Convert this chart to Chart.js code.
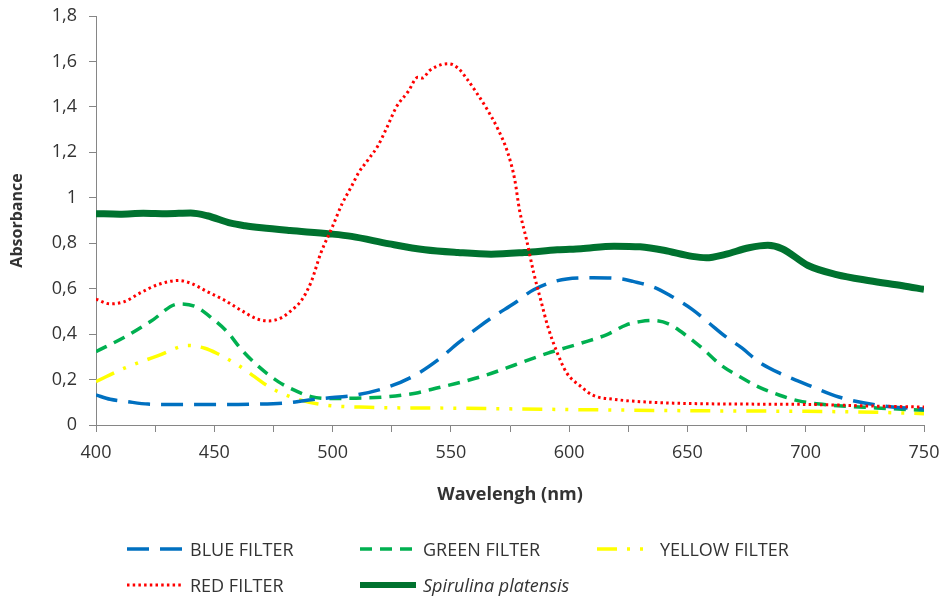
<!DOCTYPE html>
<html>
<head>
<meta charset="utf-8">
<script src="https://cdn.jsdelivr.net/npm/chart.js@4"></script>
<style>
body{margin:0;background:#fff;}
#wrap{position:relative;width:944px;height:597px;font-family:'Open Sans',sans-serif;color:#333;}
#chart{position:absolute;left:0;top:0;}
.leg{position:absolute;display:flex;align-items:center;font-size:18px;white-space:nowrap;}
.leg svg{margin-right:7px;}
</style>
</head>
<body>
<div id="wrap">
<canvas id="chart" width="944" height="597"></canvas>
<div id="legend"></div>
</div>
<script>

// wavelengths (nm) and absorbance, one pair per series
const blueNm = [400,406,413,422,433,454,468,481,488,496,510,524,535,545,553,562,568,577,585,599,610,622,627,636,643,652,659,666,673,680,689,701,714,733,750];
const blueAbs = [0.132,0.113,0.103,0.092,0.09,0.09,0.092,0.098,0.107,0.117,0.132,0.169,0.22,0.29,0.36,0.433,0.477,0.537,0.595,0.643,0.648,0.643,0.632,0.606,0.568,0.509,0.45,0.39,0.339,0.279,0.228,0.176,0.123,0.084,0.07];

const greenNm = [400,412,423,435,442,449,456,461,468,477,482,491,499,510,524,535,545,555,565,577,591,605,616,624,630,635,642,650,657,664,672,680,689,697,707,730,750];
const greenAbs = [0.323,0.386,0.455,0.533,0.521,0.47,0.404,0.338,0.264,0.191,0.162,0.125,0.117,0.118,0.125,0.14,0.165,0.19,0.22,0.264,0.316,0.36,0.398,0.44,0.455,0.46,0.445,0.39,0.331,0.265,0.213,0.168,0.131,0.106,0.091,0.075,0.065];

const yellowNm = [400,412,426,439,446,451,461,467,473,482,494,515,550,600,650,700,730,750];
const yellowAbs = [0.191,0.25,0.304,0.35,0.338,0.316,0.257,0.213,0.169,0.125,0.092,0.078,0.074,0.068,0.063,0.06,0.056,0.05];

const redNm = [400,406,412,419,426,435,440,447,454,461,468,473,478,482,487,491,495,500,504,508,511,515,519,523,527,532,536,538,541,546,549,553,557,561,565,570,574,577,579,582,585,588,591,595,599,605,610,619,633,654,704,726,750];
const redAbs = [0.554,0.533,0.543,0.583,0.617,0.636,0.624,0.587,0.551,0.507,0.467,0.458,0.47,0.499,0.551,0.631,0.756,0.874,0.973,1.05,1.11,1.167,1.226,1.31,1.4,1.468,1.53,1.527,1.56,1.586,1.59,1.571,1.52,1.46,1.395,1.3,1.2,1.08,0.947,0.815,0.67,0.55,0.433,0.317,0.229,0.169,0.131,0.113,0.101,0.094,0.09,0.084,0.079];

const spirNm = [400,410,420,430,440,447,457,463,470,482,499,508,524,539,553,567,581,595,605,619,630,640,652,658,666,676,684,690,701,713,727,741,750];
const spirAbs = [0.93,0.928,0.932,0.93,0.933,0.921,0.888,0.877,0.868,0.856,0.841,0.83,0.797,0.771,0.759,0.752,0.759,0.771,0.776,0.787,0.784,0.769,0.742,0.736,0.751,0.78,0.791,0.776,0.702,0.662,0.635,0.613,0.597];

const seriesNames = ["BLUE FILTER","GREEN FILTER","YELLOW FILTER","RED FILTER","Spirulina platensis"];


function pts(xs, ys){
return xs.map((x,i) => ({x:x, y:ys[i]}));
}

const series = [
{name:seriesNames[0], data:pts(blueNm,blueAbs), color:"#0070C0", width:3.5, dash:[22,11], order:1},
{name:seriesNames[1], data:pts(greenNm,greenAbs), color:"#00B050", width:3.5, dash:[12,8], order:2},
{name:seriesNames[2], data:pts(yellowNm,yellowAbs), color:"#FFFF00", width:3.5, dash:[20,10,3,10,3,10], order:3},
{name:seriesNames[3], data:pts(redNm,redAbs), color:"#FF0000", width:3, dash:[2.5,3.2], order:0},
{name:seriesNames[4], data:pts(spirNm,spirAbs), color:"#00722F", width:7, dash:[], order:4}
];

Chart.defaults.font.family = "'Open Sans', sans-serif";
Chart.defaults.color = "#333";

const axisGray = "#868686";

new Chart(document.getElementById("chart"),{

type:"line",

data:{
datasets: series.map(s => ({
label:s.name,
data:s.data,
borderColor:s.color,
borderWidth:s.width,
borderDash:s.dash,
order:s.order,
pointRadius:0,
fill:false,
cubicInterpolationMode:"monotone"
}))
},

options:{
responsive:false,
animation:false,
layout:{padding:{left:0,right:0,top:0,bottom:85}},
plugins:{legend:{display:false},tooltip:{enabled:false}},
scales:{
x:{
type:"linear",
min:400,
max:750,
afterFit:(scale)=>{ scale.height = 87; scale.paddingRight = 20; },
ticks:{
stepSize:25,
autoSkip:false,
maxRotation:0,
padding:10,
font:{size:18},
callback:(v)=> v % 50 === 0 ? v : ""
},
grid:{drawOnChartArea:false, color:axisGray, tickLength:7},
border:{color:axisGray},
title:{display:true, text:"Wavelengh (nm)", font:{size:18, weight:"bold"}, padding:{top:0,bottom:6}}
},
y:{
min:0,
max:1.8,
afterFit:(scale)=>{ scale.width = 96; scale.paddingTop = 16; },
ticks:{
stepSize:0.2,
padding:12,
font:{size:18},
callback:(v)=> String(Math.round(v*10)/10).replace(".",",")
},
grid:{drawOnChartArea:false, color:axisGray, tickLength:7},
border:{color:axisGray},
title:{display:true, text:"Absorbance", font:{size:16, weight:"bold"}, padding:{top:8,bottom:0}}
}
}
}

});


/* legend drawn as html below the plot */

const legendPos = [[127,549],[360,549],[597,549],[127,585],[360,585]];

const legend = document.getElementById("legend");

series.forEach((s,i) => {

const div = document.createElement("div");
div.className = "leg";
div.style.left = legendPos[i][0] + "px";
div.style.top = (legendPos[i][1] - 12) + "px";
div.style.height = "24px";

const dashAttr = s.dash.length ? `stroke-dasharray="${s.dash.join(",")}"` : "";
const label = i === 4 ? `<i>${s.name}</i>` : s.name;

div.innerHTML = `<svg width="56" height="10"><line x1="0" y1="5" x2="56" y2="5"
stroke="${s.color}" stroke-width="${Math.min(s.width,6)}" ${dashAttr}/></svg>${label}`;

legend.appendChild(div);

});

</script>
</body>
</html>
